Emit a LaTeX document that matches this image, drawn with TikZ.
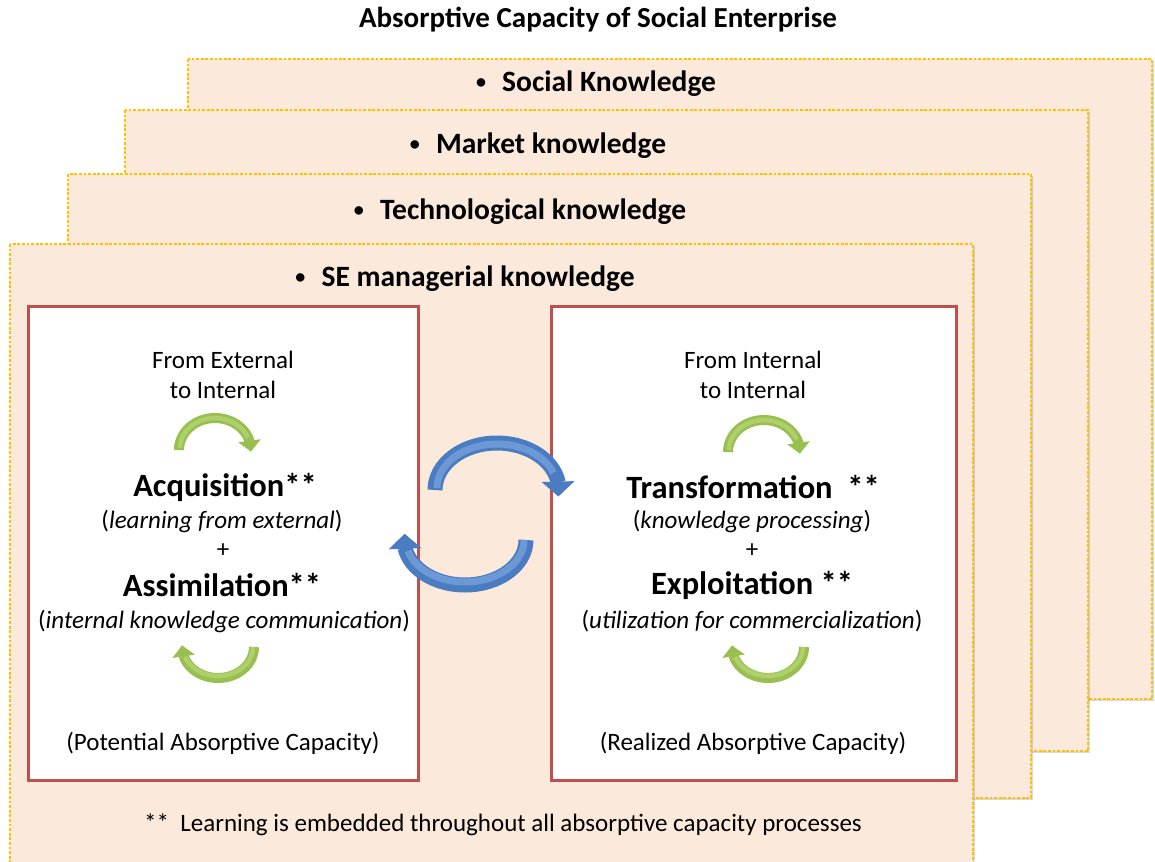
\documentclass[tikz,border=0pt]{standalone}
\usepackage{fontspec}
\setmainfont{Carlito}
\usetikzlibrary{arrows.meta,bending,shadows}
\definecolor{peach}{HTML}{FBE9DB}
\definecolor{dotyellow}{HTML}{FFC000}
\definecolor{boxred}{HTML}{C0504D}
\definecolor{arrblue}{HTML}{4A7CC2}
\definecolor{arrbluelight}{HTML}{6C98D6}
\definecolor{arrgreen}{HTML}{98BF50}
\definecolor{arrgreenlight}{HTML}{ADD06B}
\newcommand{\mybul}{\raisebox{0.12em}{\fontsize{20}{20}\selectfont\textbullet}\hspace{0.55em}}
\begin{document}
\begin{tikzpicture}[x=1pt,y=1pt,
  layer/.style={fill=peach, draw=dotyellow, line width=2.6pt, dash pattern=on 2.8pt off 1.8pt,
    drop shadow={shadow xshift=2pt, shadow yshift=-2pt, opacity=0.3, fill=gray}},
  redbox/.style={fill=white, draw=boxred, line width=3pt},
  ttl/.style={font=\fontsize{29}{33}\selectfont\bfseries, inner sep=0pt},
  ptitle/.style={font=\fontsize{29.5}{33}\selectfont\bfseries, inner sep=0pt},
  big/.style={font=\fontsize{32.5}{36}\selectfont\bfseries, inner sep=0pt},
  txt/.style={font=\fontsize{25}{29}\selectfont, inner sep=0pt},
  bluearr/.style={draw=arrblue, line width=15pt, -{Triangle[width=32pt,length=15pt,flex]}},
  bluehi/.style={draw=arrbluelight, line width=7pt},
  greenarr/.style={draw=arrgreen, line width=10pt, -{Triangle[width=22pt,length=11pt,flex]}},
  greenhi/.style={draw=arrgreenlight, line width=4.5pt}
]
\useasboundingbox (0,0) rectangle (1155,-861);
% layers
\draw[layer] (188,-59) rectangle (1152,-699);
\draw[layer] (125,-110) rectangle (1088,-751);
\draw[layer] (68,-174) rectangle (1031,-798);
\draw[layer] (10,-244) rectangle (973,-880);
% title and layer titles
\node[ttl] (title) at (598,-20) {Absorptive Capacity of Social Enterprise};
\node[ptitle] (social) at (596,-84) {\mybul Social Knowledge};
\node[ptitle] (market) at (538,-146) {\mybul Market knowledge};
\node[ptitle] (tech) at (520,-212) {\mybul Technological knowledge};
\node[ptitle] (semk) at (465,-279) {\mybul SE managerial knowledge};
% red boxes
\draw[redbox] (28,-306) rectangle (418,-780);
\draw[redbox] (551,-306) rectangle (956,-780);
% left box text
\node[txt] (lfrom1) at (223,-360) {From External};
\node[txt] (lfrom2) at (223,-390) {to Internal};
\node[big] (acq) at (225,-487) {Acquisition**};
\node[txt] (acqd) at (222,-521) {(\textit{learning from external})};
\node[txt] (lplus) at (223,-551) {+};
\node[big] (assim) at (222,-585) {Assimilation**};
\node[txt] (assimd) at (224,-621) {(\textit{internal knowledge communication})};
\node[txt] (pac) at (223,-743) {(Potential Absorptive Capacity)};
% right box text
\node[txt] (rfrom1) at (753,-360) {From Internal};
\node[txt] (rfrom2) at (753,-390) {to Internal};
\node[big] (trans) at (753,-487) {Transformation\ \ **};
\node[txt] (transd) at (752,-521) {(\textit{knowledge processing})};
\node[txt] (rplus) at (752,-551) {+};
\node[big] (expl) at (752,-585) {Exploitation **};
\node[txt] (expld) at (752,-621) {(\textit{utilization for commercialization})};
\node[txt] (rac) at (753,-743) {(Realized Absorptive Capacity)};
% bottom note
\node[txt] (note) at (503,-825) {**\ \ Learning is embedded throughout all absorptive capacity processes};
% blue cycle arrows
\draw[bluearr] (435,-490) arc[start angle=180, end angle=-8, x radius=62, y radius=47];
\draw[bluehi] (437,-488) arc[start angle=180, end angle=20, x radius=60, y radius=44];
\draw[bluearr] (526,-540) arc[start angle=0, end angle=-188, x radius=61, y radius=45];
\draw[bluehi] (524,-540) arc[start angle=0, end angle=-165, x radius=59, y radius=42];
% green arrows
\draw[greenarr] (179,-450) arc[start angle=180, end angle=-3, x radius=36, y radius=32];
\draw[greenhi] (180,-448) arc[start angle=180, end angle=20, x radius=35, y radius=30];
\draw[greenarr] (254,-647) arc[start angle=0, end angle=-183, x radius=36, y radius=31];
\draw[greenhi] (253,-647) arc[start angle=0, end angle=-160, x radius=35, y radius=29];
\draw[greenarr] (728,-452) arc[start angle=180, end angle=-3, x radius=36, y radius=32];
\draw[greenhi] (729,-450) arc[start angle=180, end angle=20, x radius=35, y radius=30];
\draw[greenarr] (804,-647) arc[start angle=0, end angle=-183, x radius=36, y radius=31];
\draw[greenhi] (803,-647) arc[start angle=0, end angle=-160, x radius=35, y radius=29];
\end{tikzpicture}
\end{document}
